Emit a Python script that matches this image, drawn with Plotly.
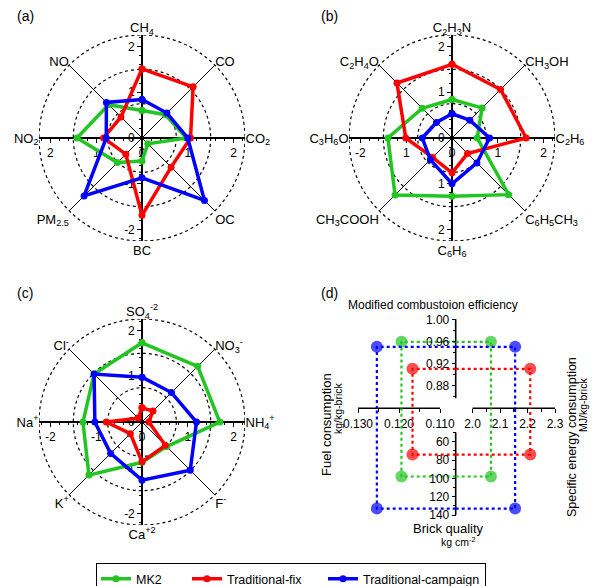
import plotly.graph_objects as go

W, H = 600, 586

# ---------------- data ----------------
series = ["MK2", "Traditional-fix", "Traditional-campaign"]
colors = ["#22C522", "#FF0000", "#0000FF"]

cats_a = ["CH<sub>4</sub>", "CO", "CO<sub>2</sub>", "OC", "BC", "PM<sub>2.5</sub>", "NO<sub>2</sub>", "NO"]
a_mk2 = [0.60, 0.72, 0.97, 0.18, 0.50, 0.76, 1.42, 1.03]
a_fix = [1.51, 1.58, 1.06, 0.90, 1.69, 0.50, 0.84, 0.65]
a_camp = [0.84, 0.77, 1.00, 1.93, 0.87, 1.79, 0.78, 1.10]

cats_b = ["C<sub>2</sub>H<sub>3</sub>N", "CH<sub>3</sub>OH", "C<sub>2</sub>H<sub>6</sub>",
          "C<sub>6</sub>H<sub>5</sub>CH<sub>3</sub>", "C<sub>6</sub>H<sub>6</sub>", "CH<sub>3</sub>COOH",
          "C<sub>3</sub>H<sub>6</sub>O", "C<sub>2</sub>H<sub>4</sub>O"]
b_mk2 = [0.84, 0.93, 0.55, 1.75, 1.27, 1.76, 1.40, 0.92]
b_fix = [1.61, 1.50, 1.62, 0.48, 0.76, 0.60, 1.01, 1.70]
b_camp = [0.53, 0.55, 0.82, 0.77, 1.00, 0.67, 0.65, 0.48]

cats_c = ["SO<sub>4</sub><sup>-2</sup>", "NO<sub>3</sub><sup>-</sup>", "NH<sub>4</sub><sup>+</sup>", "F<sup>-</sup>",
          "Ca<sup>+2</sup>", "K<sup>+</sup>", "Na<sup>+</sup>", "Cl<sup>-</sup>"]
c_mk2 = [1.73, 1.72, 1.70, 0.76, 0.88, 1.64, 1.29, 1.48]
c_fix = [0.31, 0.34, 0.15, 0.72, 0.87, 0.36, 0.78, 0.12]
c_camp = [0.98, 0.91, 1.19, 1.49, 1.27, 0.97, 1.03, 1.48]

tick_vals = [-2, -1, 0, 1, 2]
a_xtext = ["2", "1", "0", "1", "2"]
a_ytext = ["-2", "-1", "0", "1", "2"]
b_xtext = ["-2", "1", "0", "1", "2"]
b_ytext = ["2", "1", "0", "1", "2"]
c_xtext = ["-2", "-1", "0", "1", "2"]
c_ytext = ["-2", "-1", "0", "1", "2"]
ring_radii = [0.75, 1.5, 2.25]

# panel (d)
mce = [0.959, 0.910, 0.950]      # modified combustion efficiency
fuel = [0.1194, 0.1167, 0.1254]  # kg/kg-brick
sec = [2.067, 2.210, 2.155]      # MJ/kg-brick
bq = [98, 74, 133]               # kg cm-2

fuel_ticks = [0.130, 0.120, 0.110]
fuel_ticktext = ["0.130", "0.120", "0.110"]
sec_ticks = [2.0, 2.1, 2.2, 2.3]
sec_ticktext = ["2.0", "2.1", "2.2", "2.3"]
mce_ticks = [1.00, 0.96, 0.92, 0.88]
mce_ticktext = ["1.00", "0.96", "0.92", "0.88"]
bq_ticks = [60, 80, 100, 120, 140]
bq_ticktext = ["60", "80", "100", "120", "140"]

# ---------------- geometry ----------------
FONT = "Arial, Liberation Sans, sans-serif"
RMAX = 2.25
R_PX = 103
centers = [(142, 138), (452, 138), (142, 422)]
legend_widths = [46, 91, None]


def px_x(p):
    return p / W


def px_y(p):
    return 1 - p / H


fig = go.Figure()

panels = [
    (cats_a, [a_mk2, a_fix, a_camp], a_xtext, a_ytext),
    (cats_b, [b_mk2, b_fix, b_camp], b_xtext, b_ytext),
    (cats_c, [c_mk2, c_fix, c_camp], c_xtext, c_ytext),
]

minor_vals = [round(-2.2 + 0.2 * i, 2) for i in range(23) if abs(round(-2.2 + 0.2 * i, 2) - round(-2.2 + 0.2 * i)) > 1e-6]

layout_extra = {}
shapes = []
for k, ((cats, vals, xt, yt), (cx, cy)) in enumerate(zip(panels, centers)):
    pid = "polar" if k == 0 else f"polar{k + 1}"
    sfx = "" if k == 0 else str(k + 1)
    xd = [px_x(cx - R_PX), px_x(cx + R_PX)]
    yd = [px_y(cy + R_PX), px_y(cy - R_PX)]
    for s, (name, col, v) in enumerate(zip(series, colors, vals)):
        tr = go.Scatterpolar(
            r=v + v[:1], theta=cats + cats[:1], subplot=pid, mode="lines+markers",
            name=name, legendgroup=name, showlegend=(k == 0),
            line=dict(color=col, width=3.5), marker=dict(color=col, size=7),
            hoverinfo="skip")
        if k == 0 and legend_widths[s]:
            tr.legendwidth = legend_widths[s]
        fig.add_trace(tr)
    layout_extra[pid] = dict(
        domain=dict(x=xd, y=yd), bgcolor="rgba(0,0,0,0)",
        angularaxis=dict(direction="clockwise", rotation=90, showgrid=True, gridcolor="black",
                         gridwidth=1.2, showline=False, ticks="", categoryorder="array",
                         categoryarray=cats, tickfont=dict(size=13, family=FONT, color="black")),
        radialaxis=dict(range=[0, RMAX], showgrid=False, showticklabels=False, ticks="",
                        showline=False))
    # crosshair axes
    fig.add_trace(go.Scatter(x=[None], y=[None], xaxis="x" + sfx, yaxis="y" + sfx,
                             showlegend=False, hoverinfo="skip"))
    common = dict(range=[-RMAX, RMAX], showgrid=False, zeroline=False, showline=True, linecolor="black",
                  linewidth=1.6, ticks="outside", ticklen=4, tickwidth=1.2, tickcolor="black",
                  tickvals=tick_vals, tickfont=dict(size=12, family=FONT, color="black"), fixedrange=True,
                  minor=dict(tickvals=minor_vals, ticks="outside", ticklen=2.5, tickwidth=1, tickcolor="black"))
    layout_extra["xaxis" + sfx] = dict(common, domain=xd, anchor="free", position=px_y(cy), side="bottom",
                                       ticktext=xt)
    layout_extra["yaxis" + sfx] = dict(common, domain=yd, anchor="free", position=px_x(cx), side="left",
                                       ticktext=yt)
    for r in ring_radii:
        shapes.append(dict(type="circle", xref="x" + sfx, yref="y" + sfx, x0=-r, x1=r, y0=-r, y1=r,
                           line=dict(color="black", width=1.2, dash="dot"), layer="below"))

# ---------------- panel (d) ----------------
VX = 455.7   # vertical axis pixel x
HY = 408.3   # horizontal axes pixel y
LX0, RX1 = 330, 585
TY0, BY1 = 298, 532

f_px130, f_px110 = 358.0, 440.0
f_per_px = (0.130 - 0.110) / (f_px110 - f_px130)
fuel_range = [0.130 + (f_px130 - LX0) * f_per_px, 0.130 - (VX - f_px130) * f_per_px]

s_px20, s_px23 = 472.5, 555.0
s_per_px = 0.3 / (s_px23 - s_px20)
sec_range = [2.0 - (s_px20 - VX) * s_per_px, 2.0 + (RX1 - s_px20) * s_per_px]

m_px100, m_px088 = 319.3, 385.3
m_per_px = 0.12 / (m_px088 - m_px100)
mce_range = [1.0 - (HY - m_px100) * m_per_px, 1.0 + (m_px100 - TY0) * m_per_px]

q_px60, q_px140 = 441.7, 515.0
q_per_px = 80 / (q_px140 - q_px60)
bq_range = [60 + (BY1 - q_px60) * q_per_px, 60 - (q_px60 - HY) * q_per_px]

dfont = dict(size=12, family=FONT, color="black")
dcommon = dict(showgrid=False, zeroline=False, showline=False, ticks="outside", ticklen=4, tickwidth=1.2,
               tickcolor="black", tickfont=dfont, fixedrange=True)
layout_extra["xaxis4"] = dict(dcommon, domain=[px_x(LX0), px_x(VX)], range=fuel_range, anchor="y4",
                              side="bottom", tickvals=fuel_ticks, ticktext=fuel_ticktext,
                              minor=dict(tickvals=[0.125, 0.115], ticks="outside", ticklen=2.5, tickcolor="black"))
layout_extra["xaxis5"] = dict(dcommon, domain=[px_x(VX), px_x(RX1)], range=sec_range, anchor="y4",
                              side="bottom", tickvals=sec_ticks, ticktext=sec_ticktext,
                              minor=dict(tickvals=[2.05, 2.15, 2.25], ticks="outside", ticklen=2.5, tickcolor="black"))
layout_extra["yaxis4"] = dict(dcommon, domain=[px_y(HY), px_y(TY0)], range=mce_range, anchor="free",
                              position=px_x(VX), side="left", tickvals=mce_ticks, ticktext=mce_ticktext,
                              minor=dict(tickvals=[0.98, 0.94, 0.90, 0.86], ticks="outside", ticklen=2.5, tickcolor="black"))
layout_extra["yaxis5"] = dict(dcommon, domain=[px_y(BY1), px_y(HY)], range=bq_range, anchor="free",
                              position=px_x(VX), side="left", tickvals=bq_ticks, ticktext=bq_ticktext,
                              minor=dict(tickvals=[50, 70, 90, 110, 130], ticks="outside", ticklen=2.5, tickcolor="black"))

x4_end = fuel_range[1]
x5_start = sec_range[0]
y4_end = mce_range[0]
y5_start = bq_range[1]

for name, col, m, f, s_, q in zip(series, colors, mce, fuel, sec, bq):
    pieces = [
        ("x4", "y4", [x4_end, f, f], [m, m, y4_end]),
        ("x5", "y4", [x5_start, s_, s_], [m, m, y4_end]),
        ("x4", "y5", [x4_end, f, f], [q, q, y5_start]),
        ("x5", "y5", [x5_start, s_, s_], [q, q, y5_start]),
    ]
    for xa, ya, xs, ys in pieces:
        fig.add_trace(go.Scatter(x=xs, y=ys, xaxis=xa, yaxis=ya, mode="lines+markers",
                                 line=dict(color=col, width=2.2, dash="dot"),
                                 marker=dict(color=col, size=[0, 12, 0], line=dict(width=0)),
                                 showlegend=False, hoverinfo="skip", cliponaxis=False))

dshapes = [
    dict(type="line", xref="x4", yref="paper", x0=0.130, x1=0.110, y0=px_y(HY), y1=px_y(HY)),
    dict(type="line", xref="x5", yref="paper", x0=2.0, x1=2.3, y0=px_y(HY), y1=px_y(HY)),
    dict(type="line", xref="paper", yref="y4", x0=px_x(VX), x1=px_x(VX), y0=0.8564, y1=1.0),
    dict(type="line", xref="paper", yref="y5", x0=px_x(VX), x1=px_x(VX), y0=50, y1=140),
]
for sh in dshapes:
    sh.update(line=dict(color="black", width=1.6), layer="below")
shapes += dshapes

annotations = []
for lab, (x, y) in zip(["(a)", "(b)", "(c)", "(d)"], [(25, 16), (329, 16), (25, 293), (329, 293)]):
    annotations.append(dict(text=lab, x=px_x(x), y=px_y(y), xref="paper", yref="paper", showarrow=False,
                            xanchor="center", yanchor="middle",
                            font=dict(size=14, family=FONT, color="black")))

dlabels = [
    ("Modified combustoion efficiency", 433, 305, 0, 12),
    ("Fuel consumption", 326, 425, -90, 13),
    ("kg/kg-brick", 338, 408, -90, 10.5),
    ("Specific energy consumption", 572, 437, -90, 12.5),
    ("MJ/kg-brick", 583, 405, -90, 10.5),
    ("Brick quality", 448, 528, 0, 13),
    ("kg cm<sup>-2</sup>", 458, 541, 0, 10.5),
]
for t, x, y, ang, sz in dlabels:
    annotations.append(dict(text=t, x=px_x(x), y=px_y(y), xref="paper", yref="paper", showarrow=False,
                            xanchor="center", yanchor="middle",
                            textangle=ang, font=dict(size=sz, family=FONT, color="black")))

fig.update_layout(
    width=W, height=H, margin=dict(l=0, r=0, t=0, b=0, autoexpand=False),
    paper_bgcolor="white", plot_bgcolor="rgba(0,0,0,0)",
    font=dict(family=FONT, size=12, color="black"),
    showlegend=True,
    legend=dict(orientation="h", x=px_x(96), xanchor="left", y=px_y(563), yanchor="top",
                bordercolor="black", borderwidth=1.2, bgcolor="white",
                font=dict(size=12.5, family=FONT, color="black")),
    shapes=shapes, annotations=annotations,
    **layout_extra,
)

fig.write_html("out.html", post_script="document.body.style.margin='0px';",
               config={"displayModeBar": False})
